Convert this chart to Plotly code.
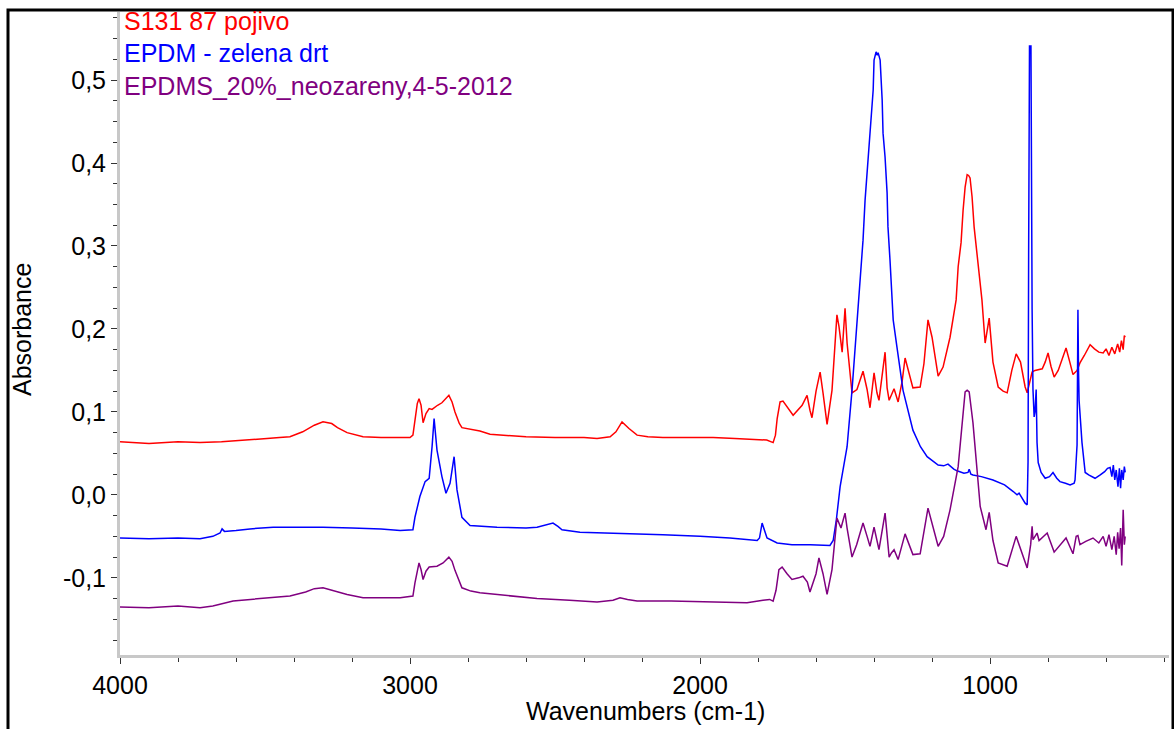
import plotly.graph_objects as go

# ---------------- data ----------------
red_name = "S131 87 pojivo"
blue_name = "EPDM - zelena drt"
purple_name = "EPDMS_20%_neozareny,4-5-2012"

red_wn = [4000, 3900, 3800, 3724, 3650, 3600, 3550, 3493, 3450, 3414, 3370, 3330, 3300, 3270, 3250, 3217,
          3162, 3100, 3034, 3000, 2990, 2983, 2975, 2969, 2962, 2955, 2945, 2934, 2924, 2905, 2890, 2866,
          2855, 2845, 2830, 2821, 2793, 2759, 2724, 2650, 2600, 2500, 2400, 2355, 2310, 2290, 2269, 2245,
          2217, 2180, 2128, 2050, 1955, 1880, 1800, 1770, 1748, 1740, 1734, 1724, 1714, 1700, 1679, 1648,
          1631, 1621, 1614, 1600, 1586, 1576, 1562, 1545, 1528, 1521, 1510, 1500, 1493, 1476, 1459, 1438,
          1424, 1414, 1400, 1390, 1383, 1362, 1355, 1348, 1331, 1317, 1303, 1293, 1283, 1266, 1241, 1228,
          1214, 1200, 1179, 1162, 1138, 1117, 1110, 1100, 1093, 1086, 1079, 1074, 1069, 1062, 1055, 1045,
          1038, 1028, 1017, 1010, 1003, 990, 972, 955, 941, 925, 910, 895, 879, 872, 865, 855, 845, 834,
          820, 810, 800, 790, 779, 765, 750, 738, 725, 714, 700, 690, 675, 655, 640, 625, 610, 600, 590,
          580, 570, 560, 553, 547, 541, 537, 534]
red_abs = [0.064, 0.062, 0.064, 0.063, 0.064, 0.065, 0.066, 0.068, 0.069, 0.070, 0.076, 0.084, 0.088, 0.086,
           0.081, 0.075, 0.070, 0.069, 0.069, 0.069, 0.072, 0.090, 0.110, 0.116, 0.108, 0.087, 0.098, 0.104,
           0.103, 0.108, 0.111, 0.120, 0.112, 0.100, 0.086, 0.081, 0.079, 0.077, 0.073, 0.071, 0.070, 0.069,
           0.069, 0.068, 0.070, 0.076, 0.088, 0.080, 0.072, 0.070, 0.069, 0.069, 0.069, 0.068, 0.067, 0.066,
           0.063, 0.072, 0.092, 0.112, 0.113, 0.106, 0.096, 0.108, 0.120, 0.102, 0.093, 0.125, 0.148, 0.123,
           0.085, 0.126, 0.217, 0.203, 0.172, 0.225, 0.183, 0.123, 0.127, 0.149, 0.127, 0.105, 0.147, 0.123,
           0.114, 0.172, 0.129, 0.114, 0.128, 0.112, 0.137, 0.165, 0.151, 0.129, 0.130, 0.158, 0.211, 0.190,
           0.143, 0.154, 0.190, 0.235, 0.275, 0.304, 0.343, 0.371, 0.386, 0.385, 0.382, 0.359, 0.323, 0.292,
           0.267, 0.235, 0.183, 0.200, 0.213, 0.160, 0.130, 0.125, 0.123, 0.150, 0.170, 0.160, 0.130, 0.123,
           0.135, 0.148, 0.150, 0.151, 0.152, 0.160, 0.171, 0.155, 0.142, 0.150, 0.165, 0.177, 0.160, 0.145,
           0.150, 0.159, 0.168, 0.181, 0.176, 0.172, 0.171, 0.176, 0.168, 0.178, 0.170, 0.182, 0.172, 0.186,
           0.175, 0.192, 0.190]

blue_wn = [4000, 3900, 3800, 3724, 3680, 3655, 3648, 3640, 3600, 3552, 3472, 3400, 3300, 3200, 3100, 3034,
           2990, 2983, 2966, 2948, 2934, 2924, 2917, 2907, 2890, 2876, 2862, 2848, 2838, 2821, 2793, 2700,
           2600, 2562, 2530, 2507, 2490, 2476, 2414, 2300, 2128, 2000, 1897, 1803, 1795, 1786, 1780, 1769,
           1734, 1683, 1620, 1552, 1541, 1530, 1517, 1505, 1493, 1476, 1459, 1448, 1438, 1431, 1424, 1417,
           1410, 1403, 1400, 1393, 1389, 1386, 1379, 1372, 1369, 1362, 1355, 1352, 1345, 1338, 1334, 1321,
           1300, 1266, 1240, 1217, 1195, 1179, 1160, 1145, 1125, 1114, 1090, 1076, 1072, 1066, 1059, 1030,
           990, 950, 920, 907, 900, 890, 879, 872, 869, 867, 864, 859, 857, 855, 852, 848, 845, 841, 838,
           834, 824, 810, 795, 783, 770, 759, 740, 724, 710, 707, 700, 697, 695, 693, 683, 672, 660, 650,
           638, 620, 605, 595, 586, 580, 575, 570, 565, 559, 554, 550, 546, 541, 537, 534]
blue_abs = [-0.052, -0.053, -0.052, -0.053, -0.050, -0.046, -0.041, -0.044, -0.043, -0.041, -0.039, -0.039,
            -0.039, -0.040, -0.041, -0.043, -0.042, -0.027, -0.002, 0.016, 0.020, 0.058, 0.092, 0.054, 0.022,
            0.002, 0.014, 0.046, 0.006, -0.027, -0.037, -0.039, -0.040, -0.039, -0.036, -0.034, -0.038,
            -0.042, -0.045, -0.046, -0.048, -0.050, -0.052, -0.055, -0.052, -0.034, -0.040, -0.052, -0.058,
            -0.060, -0.060, -0.061, -0.055, -0.030, 0.010, 0.035, 0.058, 0.126, 0.211, 0.259, 0.307, 0.355,
            0.388, 0.419, 0.452, 0.488, 0.524, 0.534, 0.530, 0.533, 0.524, 0.476, 0.436, 0.407, 0.364, 0.323,
            0.283, 0.243, 0.211, 0.178, 0.126, 0.078, 0.058, 0.046, 0.040, 0.036, 0.035, 0.037, 0.031, 0.029,
            0.026, 0.027, 0.031, 0.025, 0.024, 0.022, 0.018, 0.012, 0.004, 0.000, 0.002, -0.004, -0.010,
            -0.012, 0.040, 0.287, 0.541, 0.541, 0.300, 0.223, 0.127, 0.094, 0.100, 0.127, 0.063, 0.039,
            0.027, 0.020, 0.022, 0.027, 0.020, 0.016, 0.014, 0.012, 0.014, 0.018, 0.060, 0.223, 0.150, 0.114,
            0.063, 0.027, 0.024, 0.022, 0.020, 0.024, 0.028, 0.032, 0.033, 0.022, 0.036, 0.018, 0.030, 0.010,
            0.032, 0.008, 0.030, 0.018, 0.034, 0.027]

purple_wn = [4000, 3900, 3800, 3724, 3680, 3610, 3550, 3493, 3414, 3360, 3330, 3300, 3260, 3217, 3162, 3100,
             3034, 2990, 2983, 2969, 2962, 2955, 2945, 2934, 2907, 2886, 2866, 2855, 2845, 2821, 2790, 2759,
             2650, 2562, 2450, 2355, 2300, 2276, 2250, 2217, 2100, 2000, 1900, 1838, 1783, 1760, 1748, 1738,
             1728, 1717, 1700, 1683, 1660, 1645, 1630, 1621, 1600, 1590, 1576, 1562, 1545, 1528, 1514, 1500,
             1493, 1476, 1460, 1438, 1424, 1414, 1400, 1383, 1362, 1348, 1340, 1331, 1317, 1293, 1266, 1241,
             1214, 1179, 1160, 1138, 1110, 1086, 1079, 1072, 1059, 1034, 1014, 1003, 990, 972, 941, 910, 872,
             860, 855, 852, 845, 838, 831, 803, 779, 738, 714, 703, 697, 690, 670, 645, 625, 610, 600, 590,
             580, 572, 565, 560, 555, 550, 546, 541, 537, 534]
purple_abs = [-0.135, -0.136, -0.134, -0.136, -0.134, -0.128, -0.126, -0.124, -0.122, -0.117, -0.113, -0.112,
              -0.116, -0.120, -0.124, -0.124, -0.124, -0.122, -0.106, -0.082, -0.090, -0.102, -0.092, -0.087,
              -0.086, -0.082, -0.075, -0.080, -0.091, -0.112, -0.116, -0.118, -0.122, -0.125, -0.127, -0.129,
              -0.127, -0.124, -0.126, -0.128, -0.128, -0.129, -0.130, -0.130, -0.127, -0.126, -0.128, -0.115,
              -0.090, -0.087, -0.095, -0.102, -0.100, -0.098, -0.105, -0.117, -0.095, -0.076, -0.095, -0.120,
              -0.090, -0.028, -0.040, -0.022, -0.040, -0.075, -0.060, -0.034, -0.050, -0.062, -0.039, -0.066,
              -0.022, -0.075, -0.070, -0.066, -0.078, -0.047, -0.072, -0.071, -0.016, -0.062, -0.050, -0.018,
              0.034, 0.124, 0.126, 0.124, 0.087, -0.014, -0.042, -0.021, -0.055, -0.082, -0.086, -0.050,
              -0.088, -0.060, -0.038, -0.054, -0.050, -0.046, -0.055, -0.046, -0.069, -0.052, -0.071, -0.050,
              -0.049, -0.060, -0.056, -0.052, -0.058, -0.050, -0.062, -0.048, -0.066, -0.050, -0.072, -0.045,
              -0.065, -0.040, -0.085, -0.018, -0.060, -0.050]

x_tick_vals = [4000, 3000, 2000, 1000]
x_tick_labels = ["4000", "3000", "2000", "1000"]
y_tick_vals = [-0.1, 0.0, 0.1, 0.2, 0.3, 0.4, 0.5]
y_tick_labels = ["-0,1", "0,0", "0,1", "0,2", "0,3", "0,4", "0,5"]

FONT = "Liberation Sans, Arial, sans-serif"
FS = 25
RED, BLUE, PURPLE = "#FF0000", "#0000FF", "#800080"

fig = go.Figure()
for wn, ab, col, nm in [(red_wn, red_abs, RED, red_name),
                        (blue_wn, blue_abs, BLUE, blue_name),
                        (purple_wn, purple_abs, PURPLE, purple_name)]:
    fig.add_trace(go.Scatter(x=wn, y=ab, mode="lines", name=nm,
                             line=dict(color=col, width=1.5), showlegend=False))

W, H = 1174, 729
L, R, T, B = 120, 5, 12, 74
pw, ph = W - L - R, H - T - B


def px(x):
    return (x - L) / pw


def py(y):
    return (H - B - y) / ph


axis_common = dict(showgrid=False, zeroline=False, showline=True, linecolor="#C8C8C8", linewidth=3,
                   ticks="outside", ticklen=6, tickwidth=1, tickcolor="#333333",
                   tickfont=dict(family=FONT, size=FS, color="#000000"))

fig.update_layout(
    width=W, height=H, margin=dict(l=L, r=R, t=T, b=B),
    paper_bgcolor="white", plot_bgcolor="white",
    font=dict(family=FONT, size=FS, color="#000000"),
    xaxis=dict(range=[4000, 383], tickvals=x_tick_vals, ticktext=x_tick_labels,
               minor=dict(dtick=200, tick0=0, ticks="outside", ticklen=4, tickcolor="#333333"),
               **axis_common),
    yaxis=dict(range=[-0.193, 0.582], tickvals=y_tick_vals, ticktext=y_tick_labels,
               minor=dict(dtick=0.025, tick0=0, ticks="outside", ticklen=4, tickcolor="#333333"),
               **axis_common),
)

# outer black frame
fig.add_shape(type="rect", xref="paper", yref="paper",
              x0=px(8), x1=px(1173), y0=py(760), y1=py(10),
              line=dict(color="black", width=3), layer="above")

# legend-like coloured texts
for name, col, yc in [(red_name, RED, 21), (blue_name, BLUE, 53), (purple_name, PURPLE, 86)]:
    fig.add_annotation(text=name, xref="paper", yref="paper", x=px(122), y=py(yc),
                       xanchor="left", yanchor="middle", showarrow=False,
                       font=dict(family=FONT, size=FS, color=col))

fig.add_annotation(text="Wavenumbers (cm-1)", xref="paper", yref="paper", x=px(645), y=py(711),
                   xanchor="center", yanchor="middle", showarrow=False, font=dict(family=FONT, size=FS))
fig.add_annotation(text="Absorbance", xref="paper", yref="paper", x=px(22), y=py(330), textangle=-90,
                   xanchor="center", yanchor="middle", showarrow=False, font=dict(family=FONT, size=FS))

fig.write_html("out.html")
